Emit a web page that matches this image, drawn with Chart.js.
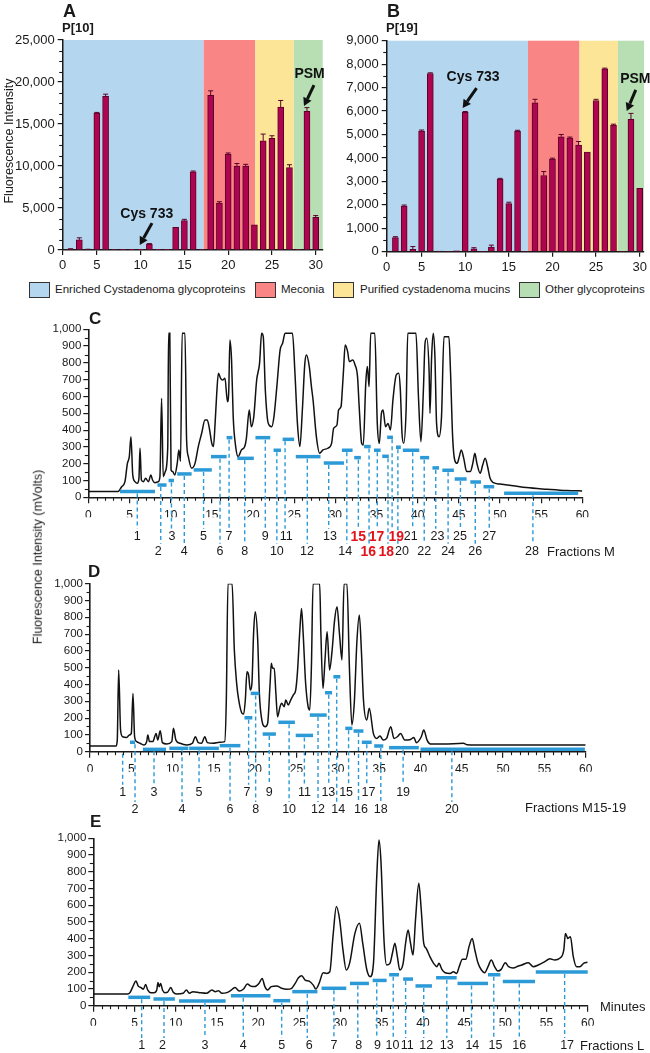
<!DOCTYPE html>
<html><head><meta charset="utf-8">
<script src="https://cdn.jsdelivr.net/npm/chart.js@4.4.1/dist/chart.umd.min.js"></script>
<style>
html,body{margin:0;padding:0;background:#fff;}
#wrap{position:relative;width:650px;height:1053px;overflow:hidden;font-family:"Liberation Sans",Arial,Helvetica,sans-serif;color:#1a1a1a;}
canvas{position:absolute;}
.t{position:absolute;white-space:nowrap;line-height:1;}
.b{font-weight:bold;}
.box{position:absolute;width:21px;height:16px;border:1px solid #333;box-sizing:border-box;}
.rot{position:absolute;white-space:nowrap;line-height:1;transform:translate(-50%,-50%) rotate(-90deg);}
</style></head><body><div id="wrap">
<canvas id="cA" width="326" height="275" style="left:0;top:0"></canvas>
<canvas id="cB" width="324" height="275" style="left:326px;top:0"></canvas>
<canvas id="cC" width="650" height="265" style="left:0;top:300px"></canvas>
<canvas id="cD" width="650" height="255" style="left:0;top:565px"></canvas>
<canvas id="cE" width="650" height="233" style="left:0;top:820px"></canvas>

<div class="t b" style="left:63px;top:2px;font-size:18px">A</div>
<div class="t b" style="left:62px;top:21px;font-size:13px">P[10]</div>
<div class="t b" style="left:387px;top:2px;font-size:18px">B</div>
<div class="t b" style="left:386px;top:21px;font-size:13px">P[19]</div>
<div class="rot" style="left:9px;top:141px;font-size:12.5px">Fluorescence Intensity</div>

<div class="box" style="left:29px;top:282px;background:#b4d6ee"></div>
<div class="t" style="left:55px;top:284px;font-size:11.5px" id="lg1"></div>
<div class="box" style="left:255px;top:282px;background:#fa8585"></div>
<div class="t" style="left:281px;top:284px;font-size:11.5px" id="lg2"></div>
<div class="box" style="left:333px;top:282px;background:#fde597"></div>
<div class="t" style="left:360px;top:284px;font-size:11.5px" id="lg3"></div>
<div class="box" style="left:519px;top:282px;background:#b7dfb3"></div>
<div class="t" style="left:545px;top:284px;font-size:11.5px" id="lg4"></div>

<div class="t b" style="left:89px;top:310px;font-size:17px">C</div>
<div class="t b" style="left:88px;top:563px;font-size:17px">D</div>
<div class="t b" style="left:90px;top:813px;font-size:17px">E</div>
<div class="rot" style="left:38px;top:557px;font-size:12.5px">Fluorescence Intensity (mVolts)</div>
<div class="t" style="left:547px;top:545px;font-size:13px">Fractions M</div>
<div class="t" style="left:525px;top:801px;font-size:13px">Fractions M15-19</div>
<div class="t" style="left:600px;top:1000px;font-size:13px">Minutes</div>
<div class="t" style="left:580px;top:1039px;font-size:13px">Fractions L</div>
</div>
<script>
// ---------- data: panels A and B ----------
const fractionsAB = [2,3,4,5,6,7,8,9,10,11,12,13,14,15,16,17,18,19,20,21,22,23,24,25,26,27,28,29,30];
const p10    = [100,1200,60,16300,18300,40,30,20,20,700,30,20,2700,3500,9300,40,18400,5600,11400,10000,10000,3000,13000,13300,17000,9800,30,16500,3900];
const p10Err = [50,250,30,80,250,0,0,0,0,60,0,0,0,150,100,0,550,150,150,300,200,0,800,300,800,350,0,450,200];
const p19    = [600,1950,100,5150,7600,30,20,40,5950,120,20,200,3100,2050,5150,20,6350,3250,3950,4900,4850,4550,4250,6450,7800,5400,20,5650,2700];
const p19Err = [40,40,120,40,30,0,0,0,30,50,0,80,30,60,30,0,150,170,40,100,40,150,0,50,30,40,0,250,0];
const abTickLabels = ['0','5','10','15','20','25','30'];
const groupNames = ['Enriched Cystadenoma glycoproteins','Meconia','Purified cystadenoma mucins','Other glycoproteins'];
const groupEdges = [17.2, 23.1, 27.5];   // fraction boundaries between groups
const notesA = [{text:'Cys 733', x:10.7, y:4300, from:[11.3,3200], to:[9.9,600]},
                {text:'PSM', x:29.3, y:20950, from:[29.8,19640], to:[28.66,17140]}];
const notesB = [{text:'Cys 733', x:10.9, y:7430, from:[11.3,6980], to:[9.71,6130]},
                {text:'PSM', x:29.5, y:7370, from:[29.55,6900], to:[28.52,6000]}];

// ---------- data: chromatogram C (Fractions M) ----------
const cTime = [0,3.6,4.05,4.45,4.75,4.98,5.18,5.4,5.67,5.95,6.15,6.28,6.45,6.7,6.96,7.3,7.6,7.8,8.1,8.5,8.7,8.9,9.1,9.35,9.65,9.75,9.9,10.05,10.24,10.5,10.8,11.0,11.2,11.4,11.74,11.94,12.15,12.55,12.96,13.36,13.77,14.17,14.45,14.7,15.0,15.2,15.4,15.6,15.8,16.07,16.3,16.6,16.9,17.05,17.2,17.4,17.6,17.9,18.2,18.6,19.0,19.2,19.55,19.8,20.1,20.45,20.8,21.05,21.25,21.5,21.86,22.27,22.55,22.9,23.3,23.6,23.9,24.8,25.1,25.4,25.7,26.0,26.3,26.5,26.84,27.1,27.3,27.7,28.1,28.5,29.1,29.55,29.8,30.2,30.4,30.7,30.85,31.0,31.2,31.5,31.7,32.1,32.4,32.7,32.9,33.2,33.4,33.7,33.9,34.1,34.3,34.8,35.1,35.35,35.6,35.8,36.1,36.4,36.7,37.0,37.4,37.7,37.9,38.1,38.3,38.6,38.8,39.8,40.1,40.4,40.7,40.9,41.1,41.4,41.5,41.7,41.9,42.1,42.3,42.6,42.9,43.2,43.8,44.0,44.25,44.5,44.8,45.06,45.3,45.6,45.95,46.4,46.7,46.95,47.2,47.6,47.9,48.2,48.5,48.8,49.2,50.0,51.6,53.2,55.7,58.1,60];
const cSignal = [34,34,63,93,202,242,361,133,93,83,113,292,103,93,113,93,133,103,87,93,123,589,123,153,300,976,976,163,153,133,202,282,215,976,976,341,242,173,202,302,381,460,460,411,321,302,440,619,738,708,698,708,569,619,936,817,480,302,242,282,302,351,520,420,480,698,797,976,956,639,440,420,480,659,877,917,976,976,738,440,302,520,797,847,778,659,579,361,262,282,292,321,411,430,520,540,639,758,907,867,808,817,788,718,540,321,311,679,778,659,976,976,440,321,500,520,420,440,401,579,728,738,639,381,321,520,976,976,599,331,639,917,946,738,500,837,976,837,440,361,480,956,956,738,361,222,202,242,282,232,153,153,202,262,202,143,192,232,182,113,87,79,69,58,48,40,38];
const cFracStart = [3.85,8.4,9.75,10.8,12.8,14.9,16.8,18.1,20.3,22.5,23.6,25.2,28.6,30.8,32.3,33.5,34.7,35.7,36.3,37.37,38.2,40.3,41.8,43.0,44.5,46.4,48.0,50.5];
const cFracEnd   = [8.1,9.5,10.4,12.55,15.0,16.8,17.5,20.1,22.1,23.4,25.0,28.2,31.05,32.1,33.1,34.3,35.5,36.5,37.0,37.96,40.2,41.4,42.6,44.4,45.95,47.7,49.3,59.5];
const cFracLevel = [34,73,100,139,163,242,355,232,355,280,345,242,204,280,236,302,280,244,357,298,280,236,175,161,109,91,63,24];
const cFracCut   = [5.95,8.8,10.1,11.66,14.0,16.0,17.1,19.0,21.5,22.9,23.9,26.6,29.2,31.4,32.8,34.1,35.1,36.4,36.9,37.6,39.4,40.8,42.2,43.7,45.2,47.0,48.7,54.0];
const cFracLabelAt = [5.95,8.5,10.15,11.66,14.0,16.0,17.1,19.0,21.5,22.9,24.05,26.55,29.35,31.2,32.8,34.0,35.0,36.2,37.4,38.1,39.15,40.8,42.4,43.7,45.15,47.0,48.7,53.9];
const cRedFractions = [15,16,17,18,19];

// ---------- data: chromatogram D (Fractions M15-19) ----------
const dTime = [0,3.15,3.3,3.47,3.7,3.95,4.44,4.76,5.0,5.2,5.4,5.65,6.05,6.5,6.86,7.0,7.2,7.6,8.0,8.2,8.5,8.76,9.3,9.9,10.1,10.4,10.9,11.7,12.4,12.75,13.1,13.5,13.9,14.2,14.9,15.7,16.3,16.5,16.7,17.2,17.47,17.75,18.0,18.4,18.6,18.8,19.0,19.2,19.4,19.6,19.8,20.0,20.3,20.5,20.8,21.2,21.5,21.8,21.95,22.1,22.3,22.5,22.7,23.0,23.2,23.5,23.7,24.0,24.3,24.6,24.9,25.1,25.4,25.6,25.8,26.1,26.4,26.6,26.8,27.0,27.8,27.95,28.2,28.45,28.7,29.0,29.3,29.6,29.9,30.2,30.5,30.75,31.1,31.4,31.7,32.0,32.3,32.6,32.85,33.1,33.5,33.8,34.3,34.7,35.1,35.5,35.9,36.4,36.8,37.2,37.6,38.1,38.8,39.2,39.5,40.1,40.4,40.8,41.2,42.8,45.2,45.6,48.4,52.1,60];
const dSignal = [34,34,69,486,129,89,85,99,109,347,89,60,50,40,60,99,60,60,109,69,125,54,46,60,139,69,50,40,50,89,54,50,89,54,50,56,60,308,1000,1000,605,407,308,228,224,308,476,456,367,407,704,833,665,347,188,149,169,407,526,496,496,347,208,268,288,268,308,278,308,337,367,466,724,853,704,407,268,248,506,1000,1000,700,377,550,714,486,600,780,863,700,546,1000,1000,500,159,300,650,813,600,308,188,258,109,79,93,69,79,149,79,89,109,69,73,85,54,89,129,69,46,46,50,42,40,40,40];
const dFracStart = [null,4.84,6.4,9.6,12.0,15.7,18.7,19.45,20.9,22.8,24.9,26.6,28.45,29.46,30.9,31.9,32.9,34.4,36.2,40.0];
const dFracEnd   = [null,5.45,9.2,11.9,15.6,18.2,19.65,20.5,22.5,24.8,27.0,28.65,29.3,30.3,31.76,33.1,34.1,35.5,39.8,59.9];
const dFracLevel = [0,56,14,20,20,36,202,347,105,175,97,218,351,446,139,123,56,34,24,14];
const dFracCut   = [3.95,5.45,7.75,11.14,13.2,16.95,19.2,20.05,21.7,24.1,25.95,27.6,28.9,29.86,31.3,32.5,33.5,35.2,37.9,43.8];
const dFracLabelAt = [3.95,5.45,7.75,11.14,13.2,16.95,19.0,20.05,21.7,24.1,25.95,27.6,28.85,30.05,31.0,32.8,33.7,35.2,37.9,43.8];

// ---------- data: chromatogram E (Fractions L) ----------
const eTime = [0,4.17,4.45,4.8,5.18,5.46,5.8,6.07,6.35,6.6,6.96,7.36,7.7,7.85,8.0,8.17,8.4,8.7,9.0,9.4,9.7,10.1,10.9,11.3,11.65,12.1,12.9,13.75,14.4,14.8,15.2,15.6,16.2,16.6,17.2,17.7,18.2,18.7,19.1,19.6,20.1,20.5,20.8,21.15,21.6,22.25,22.85,23.5,24.07,24.5,24.9,25.3,25.7,26.2,26.7,27.0,27.4,27.9,28.3,28.7,29.1,29.5,29.9,30.3,30.7,31.1,31.75,32.3,32.7,33.2,33.6,34.0,34.4,34.67,34.9,35.3,35.6,36.0,36.3,36.6,36.9,37.2,37.6,37.9,38.2,38.5,38.8,39.1,39.5,39.8,40.1,40.4,40.85,41.3,41.7,41.95,42.3,42.7,43.3,43.7,44.1,44.4,44.8,45.2,45.6,45.98,46.3,46.7,47.1,47.5,47.9,48.3,48.7,49.1,49.5,50.0,50.4,50.95,51.6,52.0,52.8,53.4,54.0,54.8,55.4,56.0,56.6,57.1,57.3,57.6,57.9,58.25,58.65,59.05,59.5,60];
const eSignal = [70,70,78,114,147,117,108,98,127,94,78,78,94,139,113,133,94,78,80,108,80,70,74,94,74,84,78,74,94,84,90,74,78,88,108,88,98,129,117,114,133,163,117,94,114,118,104,98,104,133,167,179,153,147,123,100,133,197,193,203,420,592,512,333,213,253,432,492,372,213,173,253,771,990,871,373,243,253,313,373,293,213,253,373,452,373,303,512,731,572,373,343,293,253,233,253,217,197,193,203,193,233,277,277,353,402,333,253,213,197,233,273,233,207,217,257,233,225,237,243,257,233,243,263,281,273,283,333,432,402,412,293,233,233,253,259];
const eFracStart = [4.25,7.3,10.4,16.7,21.85,24.15,27.7,31.15,33.9,35.9,37.6,39.1,41.6,44.2,47.9,49.7,53.7];
const eFracEnd   = [6.9,9.9,16.06,21.5,23.9,27.2,30.7,33.45,35.6,37.1,38.8,41.1,44.1,47.9,49.4,53.6,60];
const eFracLevel = [50,40,28,60,30,84,104,133,151,185,159,118,167,133,185,145,201];
const eFracCut   = [5.87,8.58,13.55,18.2,22.86,25.97,29.2,32.1,34.4,36.4,37.9,40.1,42.9,45.9,48.6,51.7,57.2];
const eFracLabelAt = [5.87,8.4,13.55,18.2,22.86,26.2,29.2,32.2,34.5,36.3,38.1,40.4,42.9,46.0,48.8,51.7,57.5];

// ---------- styling ----------
const FONT = '"Liberation Sans", Arial, Helvetica, sans-serif';
const INK = '#1a1a1a';
const BAR = '#ad0550';
const BAR_EDGE = '#5c0029';
const GROUP_COLORS = ['#b4d6ee','#fa8585','#fde597','#b7dfb3'];
const FR_BLUE = '#2b9ad6';
Chart.defaults.font.family = FONT;
Chart.defaults.color = INK;
Chart.defaults.animation = false;

groupNames.forEach((n,i)=>{ document.getElementById('lg'+(i+1)).textContent = n; });

function minorTicks(xStep, xMajor, yStep, yMajor) {
  return { id:'minor', afterDraw(chart) {
    const {ctx, scales:{x,y}} = chart;
    ctx.save(); ctx.strokeStyle = INK; ctx.lineWidth = 1.1;
    if (xStep) for (let v = Math.ceil(x.min/xStep)*xStep; v <= x.max + 1e-9; v += xStep) {
      if (Math.abs(v/xMajor - Math.round(v/xMajor)) < 1e-6) continue;
      const px = Math.round(x.getPixelForValue(v)) + 0.5;
      ctx.beginPath(); ctx.moveTo(px, y.bottom); ctx.lineTo(px, y.bottom + 3.5); ctx.stroke();
    }
    if (yStep) for (let v = yStep; v <= y.max + 1e-9; v += yStep) {
      if (Math.abs(v/yMajor - Math.round(v/yMajor)) < 1e-6) continue;
      const py = Math.round(y.getPixelForValue(v)) + 0.5;
      ctx.beginPath(); ctx.moveTo(x.left, py); ctx.lineTo(x.left - 3.5, py); ctx.stroke();
    }
    ctx.restore();
  }};
}

function regionsPlugin() {
  return { id:'regions', beforeDraw(chart) {
    const {ctx, chartArea:a, scales:{x}} = chart;
    const edges = [x.min, ...groupEdges, x.max];
    ctx.save();
    for (let i = 0; i < GROUP_COLORS.length; i++) {
      const x0 = x.getPixelForValue(edges[i]), x1 = x.getPixelForValue(edges[i+1]);
      ctx.fillStyle = GROUP_COLORS[i];
      ctx.fillRect(x0, a.top, x1 - x0, a.bottom - a.top);
    }
    ctx.restore();
  }};
}

function errorPlugin(vals, errs) {
  return { id:'err', afterDatasetsDraw(chart) {
    const {ctx, scales:{x,y}} = chart;
    ctx.save(); ctx.strokeStyle = BAR_EDGE; ctx.lineWidth = 1;
    fractionsAB.forEach((f,i)=>{
      if (!errs[i]) return;
      const px = x.getPixelForValue(f);
      const y0 = y.getPixelForValue(vals[i]), y1 = y.getPixelForValue(vals[i] + errs[i]);
      ctx.beginPath(); ctx.moveTo(px, y0); ctx.lineTo(px, y1);
      ctx.moveTo(px - 2.5, y1); ctx.lineTo(px + 2.5, y1); ctx.stroke();
    });
    ctx.restore();
  }};
}

function notesPlugin(notes) {
  return { id:'notes', afterDatasetsDraw(chart) {
    const {ctx, scales:{x,y}} = chart;
    ctx.save();
    notes.forEach(n=>{
      ctx.font = 'bold 14px ' + FONT; ctx.fillStyle = '#111';
      ctx.textAlign = 'center'; ctx.textBaseline = 'middle';
      ctx.fillText(n.text, x.getPixelForValue(n.x), y.getPixelForValue(n.y));
      const x0 = x.getPixelForValue(n.from[0]), y0 = y.getPixelForValue(n.from[1]);
      const x1 = x.getPixelForValue(n.to[0]), y1 = y.getPixelForValue(n.to[1]);
      const ang = Math.atan2(y1 - y0, x1 - x0), L = 8, W = 4.5;
      const bx = x1 - L*Math.cos(ang), by = y1 - L*Math.sin(ang);
      ctx.strokeStyle = '#111'; ctx.lineWidth = 3;
      ctx.beginPath(); ctx.moveTo(x0, y0); ctx.lineTo(bx, by); ctx.stroke();
      ctx.fillStyle = '#111';
      ctx.beginPath(); ctx.moveTo(x1, y1);
      ctx.lineTo(bx + W*Math.sin(ang), by - W*Math.cos(ang));
      ctx.lineTo(bx - W*Math.sin(ang), by + W*Math.cos(ang));
      ctx.closePath(); ctx.fill();
    });
    ctx.restore();
  }};
}

function barPanel(id, vals, errs, notes, o) {
  new Chart(document.getElementById(id), {
    type:'bar',
    data:{datasets:[{data: fractionsAB.map((f,i)=>({x:f, y:vals[i]})), backgroundColor:BAR, borderColor:BAR_EDGE, borderWidth:1, barThickness:6}]},
    options:{
      responsive:false, animation:false,
      layout:{padding:{top:o.padTop, right:o.padRight, left:0, bottom:0}},
      plugins:{legend:{display:false}, tooltip:{enabled:false}},
      scales:{
        x:{type:'linear', min:o.xMin, max:o.xMax, offset:false,
           afterBuildTicks(s){ s.ticks = [s.min,5,10,15,20,25,30].map(v=>({value:v})); },
           afterFit(s){ s.height = o.xHeight; },
           ticks:{autoSkip:false, maxRotation:0, padding:3, font:{size:13}, color:INK, callback:(v,i)=>abTickLabels[i]},
           grid:{offset:false, drawOnChartArea:false, tickLength:5, color:INK, lineWidth:1.2},
           border:{color:INK, width:1.5}},
        y:{min:0, max:o.yMax,
           afterFit(s){ s.width = o.yWidth; },
           ticks:{stepSize:o.yStep, autoSkip:false, padding:3, font:{size:13}, color:INK, callback:v=>v.toLocaleString('en-US')},
           grid:{drawOnChartArea:false, tickLength:5, color:INK, lineWidth:1.2},
           border:{color:INK, width:1.5}}
      }
    },
    plugins:[regionsPlugin(), errorPlugin(vals, errs), notesPlugin(notes), minorTicks(0,1,o.yMinor,o.yStep)]
  });
}

barPanel('cA', p10, p10Err, notesA, {padTop:40, padRight:2, xMin:1.1, xMax:30.8, xHeight:25, yMax:25000, yStep:5000, yMinor:1250, yWidth:62.7});
barPanel('cB', p19, p19Err, notesB, {padTop:40.7, padRight:5, xMin:1.0, xMax:30.5, xHeight:23.3, yMax:9000, yStep:1000, yMinor:500, yWidth:60.7});

function fractionPlugin(f) {
  return { id:'fractions', afterDatasetsDraw(chart) {
    const {ctx, scales:{x,y}} = chart;
    const rowOf = i => f.alternate ? (i % 2) : 0;
    ctx.save();
    ctx.strokeStyle = FR_BLUE; ctx.lineWidth = 3.5; ctx.lineCap = 'butt';
    f.start.forEach((s,i)=>{
      if (s == null) return;
      const py = y.getPixelForValue(f.level[i]);
      ctx.beginPath(); ctx.moveTo(x.getPixelForValue(s), py); ctx.lineTo(x.getPixelForValue(f.end[i]), py); ctx.stroke();
    });
    ctx.setLineDash([4,3]); ctx.lineWidth = 1.4;
    f.cut.forEach((m,i)=>{
      const px = x.getPixelForValue(m);
      const py = y.getPixelForValue(f.start[i] == null ? 0 : f.level[i]) + 2;
      ctx.beginPath(); ctx.moveTo(px, py); ctx.lineTo(px, y.bottom + f.rows[rowOf(i)] - 8); ctx.stroke();
    });
    ctx.setLineDash([]);
    ctx.textAlign = 'center'; ctx.textBaseline = 'middle';
    f.labelAt.forEach((lx,i)=>{
      const n = i + 1, red = (f.red || []).includes(n);
      ctx.font = (red ? 'bold 14px ' : '12.5px ') + FONT;
      ctx.fillStyle = red ? '#e3121b' : INK;
      ctx.fillText(String(n), x.getPixelForValue(lx), y.bottom + f.rows[rowOf(i)]);
    });
    ctx.restore();
  }};
}

function chromPanel(id, T, V, f, o) {
  new Chart(document.getElementById(id), {
    type:'line',
    data:{datasets:[{data: T.map((t,i)=>({x:t, y:V[i]})), borderColor:'#111', borderWidth:1.5, pointRadius:0, cubicInterpolationMode:'monotone', fill:false}]},
    options:{
      responsive:false, animation:false,
      layout:{padding:{top:o.padTop, right:o.padRight, left:0, bottom:o.padBottom}},
      plugins:{legend:{display:false}, tooltip:{enabled:false}},
      scales:{
        x:{type:'linear', min:0, max:60,
           afterFit(s){ s.height = 20; },
           ticks:{stepSize:5, autoSkip:false, maxRotation:0, padding:5, font:{size:12}, color:INK},
           grid:{drawOnChartArea:false, tickLength:6, color:INK, lineWidth:1.2},
           border:{color:INK, width:1.6}},
        y:{min:0, max:1000,
           afterFit(s){ s.width = o.yWidth; },
           ticks:{stepSize:100, autoSkip:false, padding:2, font:{size:11.5}, color:INK, callback:v=>v.toLocaleString('en-US')},
           grid:{drawOnChartArea:false, tickLength:5, color:INK, lineWidth:1.2},
           border:{color:INK, width:1.6}}
      }
    },
    plugins:[minorTicks(1,5,50,100), fractionPlugin(f)]
  });
}

chromPanel('cC', cTime, cSignal,
  {start:cFracStart, end:cFracEnd, level:cFracLevel, cut:cFracCut, labelAt:cFracLabelAt, red:cRedFractions, alternate:true, rows:[39.4,54.4]},
  {padTop:29.3, padRight:67.7, padBottom:47.7, yWidth:88.3});
chromPanel('cD', dTime, dSignal,
  {start:dFracStart, end:dFracEnd, level:dFracLevel, cut:dFracCut, labelAt:dFracLabelAt, red:[], alternate:true, rows:[41,58.3]},
  {padTop:18.7, padRight:64.3, padBottom:48.3, yWidth:90});
chromPanel('cE', eTime, eSignal,
  {start:eFracStart, end:eFracEnd, level:eFracLevel, cut:eFracCut, labelAt:eFracLabelAt, red:[], alternate:false, rows:[40.3]},
  {padTop:18.3, padRight:62.3, padBottom:27.3, yWidth:93.3});
</script>
</body></html>
